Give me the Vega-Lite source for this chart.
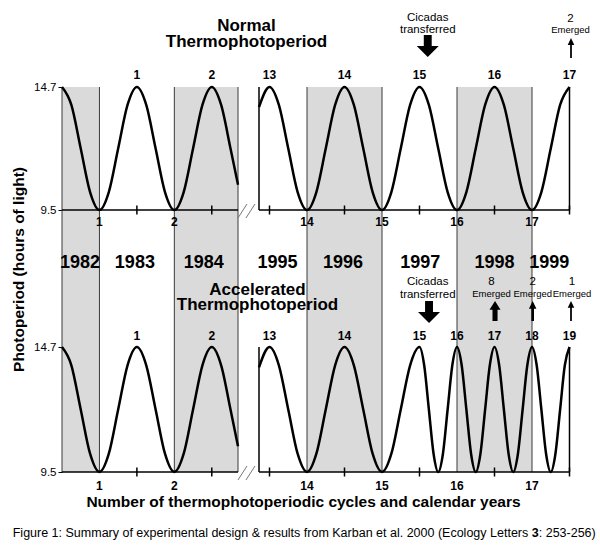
{
  "$schema": "https://vega.github.io/schema/vega-lite/v6.json",
  "width": 508,
  "height": 385,
  "autosize": {"type": "none"},
  "padding": {"left": 62, "top": 87, "right": 30, "bottom": 78},
  "background": "white",
  "config": {
    "view": {"stroke": null},
    "axisX": {"disable": true},
    "scale": {"continuousPadding": 0},
    "text": {"font": "Liberation Sans", "color": "black"}
  },
  "datasets": {
    "curves": [
      {"p":"B","s":"L","t":0.5,"v":14.7},{"p":"B","s":"L","t":0.625,"v":13.94},{"p":"B","s":"L","t":0.75,"v":12.1},{"p":"B","s":"L","t":0.875,"v":10.26},
      {"p":"B","s":"L","t":1,"v":9.5},{"p":"B","s":"L","t":1.125,"v":10.26},{"p":"B","s":"L","t":1.25,"v":12.1},{"p":"B","s":"L","t":1.375,"v":13.94},
      {"p":"B","s":"L","t":1.5,"v":14.7},{"p":"B","s":"L","t":1.625,"v":13.94},{"p":"B","s":"L","t":1.75,"v":12.1},{"p":"B","s":"L","t":1.875,"v":10.26},
      {"p":"B","s":"L","t":2,"v":9.5},{"p":"B","s":"L","t":2.125,"v":10.26},{"p":"B","s":"L","t":2.25,"v":12.1},{"p":"B","s":"L","t":2.375,"v":13.94},
      {"p":"B","s":"L","t":2.5,"v":14.7},{"p":"B","s":"L","t":2.625,"v":13.94},{"p":"B","s":"L","t":2.75,"v":12.1},{"p":"B","s":"L","t":2.85,"v":10.57},
      {"p":"B","s":"R","t":13.36,"v":13.85},{"p":"B","s":"R","t":13.5,"v":14.7},{"p":"B","s":"R","t":13.625,"v":13.94},{"p":"B","s":"R","t":13.75,"v":12.1},{"p":"B","s":"R","t":13.875,"v":10.26},
      {"p":"B","s":"R","t":14,"v":9.5},{"p":"B","s":"R","t":14.125,"v":10.26},{"p":"B","s":"R","t":14.25,"v":12.1},{"p":"B","s":"R","t":14.375,"v":13.94},
      {"p":"B","s":"R","t":14.5,"v":14.7},{"p":"B","s":"R","t":14.625,"v":13.94},{"p":"B","s":"R","t":14.75,"v":12.1},{"p":"B","s":"R","t":14.875,"v":10.26},
      {"p":"B","s":"R","t":15,"v":9.5},{"p":"B","s":"R","t":15.125,"v":10.26},{"p":"B","s":"R","t":15.25,"v":12.1},{"p":"B","s":"R","t":15.375,"v":13.94},
      {"p":"B","s":"R","t":15.5,"v":14.7},
      {"p":"N","s":"R","t":15.625,"v":13.94},{"p":"N","s":"R","t":15.75,"v":12.1},{"p":"N","s":"R","t":15.875,"v":10.26},
      {"p":"N","s":"R","t":16,"v":9.5},{"p":"N","s":"R","t":16.125,"v":10.26},{"p":"N","s":"R","t":16.25,"v":12.1},{"p":"N","s":"R","t":16.375,"v":13.94},
      {"p":"N","s":"R","t":16.5,"v":14.7},{"p":"N","s":"R","t":16.625,"v":13.94},{"p":"N","s":"R","t":16.75,"v":12.1},{"p":"N","s":"R","t":16.875,"v":10.26},
      {"p":"N","s":"R","t":17,"v":9.5},{"p":"N","s":"R","t":17.125,"v":10.26},{"p":"N","s":"R","t":17.25,"v":12.1},{"p":"N","s":"R","t":17.375,"v":13.94},
      {"p":"N","s":"R","t":17.5,"v":14.7},
      {"p":"A","s":"R","t":15.5625,"v":13.94},{"p":"A","s":"R","t":15.625,"v":12.1},{"p":"A","s":"R","t":15.6875,"v":10.26},{"p":"A","s":"R","t":15.75,"v":9.5},
      {"p":"A","s":"R","t":15.8125,"v":10.26},{"p":"A","s":"R","t":15.875,"v":12.1},{"p":"A","s":"R","t":15.9375,"v":13.94},{"p":"A","s":"R","t":16,"v":14.7},
      {"p":"A","s":"R","t":16.0625,"v":13.94},{"p":"A","s":"R","t":16.125,"v":12.1},{"p":"A","s":"R","t":16.1875,"v":10.26},{"p":"A","s":"R","t":16.25,"v":9.5},
      {"p":"A","s":"R","t":16.3125,"v":10.26},{"p":"A","s":"R","t":16.375,"v":12.1},{"p":"A","s":"R","t":16.4375,"v":13.94},{"p":"A","s":"R","t":16.5,"v":14.7},
      {"p":"A","s":"R","t":16.5625,"v":13.94},{"p":"A","s":"R","t":16.625,"v":12.1},{"p":"A","s":"R","t":16.6875,"v":10.26},{"p":"A","s":"R","t":16.75,"v":9.5},
      {"p":"A","s":"R","t":16.8125,"v":10.26},{"p":"A","s":"R","t":16.875,"v":12.1},{"p":"A","s":"R","t":16.9375,"v":13.94},{"p":"A","s":"R","t":17,"v":14.7},
      {"p":"A","s":"R","t":17.0625,"v":13.94},{"p":"A","s":"R","t":17.125,"v":12.1},{"p":"A","s":"R","t":17.1875,"v":10.26},{"p":"A","s":"R","t":17.25,"v":9.5},
      {"p":"A","s":"R","t":17.3125,"v":10.26},{"p":"A","s":"R","t":17.375,"v":12.1},{"p":"A","s":"R","t":17.4375,"v":13.94},{"p":"A","s":"R","t":17.5,"v":14.7}
    ],
    "axislines": [{"t":0.5,"t2":2.88,"v":9.5},{"t":13.36,"t2":17.5,"v":9.5}],
    "paneledges": [{"t":13.36,"v":9.5,"v2":14.7},{"t":17.5,"v":9.5,"v2":14.7}],
    "ticks": [{"t":1.5,"v":9.5},{"t":2.5,"v":9.5},{"t":13.5,"v":9.5},{"t":14.5,"v":9.5},{"t":15.5,"v":9.5},{"t":16.5,"v":9.5},{"t":17.5,"v":9.5}]
  },
  "layer": [
    {
      "data": {"values": [{"a":0.5,"b":1},{"a":2,"b":2.85},{"a":14,"b":15},{"a":16,"b":17}]},
      "mark": {"type": "rect", "fill": "#dadada"},
      "encoding": {
        "x": {"field": "a", "type": "quantitative", "scale": {"domain": [0.5, 2.85, 13.36, 17.5], "range": [0, 176, 197, 507.5], "padding": 0, "nice": false, "zero": false}},
        "x2": {"field": "b"}
      }
    },
    {
      "data": {"values": [{"a":0.5},{"a":1},{"a":2},{"a":2.85},{"a":14},{"a":15},{"a":16},{"a":17}]},
      "mark": {"type": "rule", "color": "#3a3a3a", "strokeWidth": 1},
      "encoding": {"x": {"field": "a", "type": "quantitative"}}
    },
    {
      "layer": [
        {
          "data": {"name": "curves"},
          "transform": [{"filter": "datum.p != 'A'"}],
          "mark": {"type": "line", "color": "black", "strokeWidth": 2.5, "interpolate": "monotone"},
          "encoding": {
            "x": {"field": "t", "type": "quantitative"},
            "y": {"field": "v", "type": "quantitative",
              "scale": {"domain": [-1.576, 14.7], "nice": false, "zero": false, "padding": 0},
              "axis": {"values": [9.5, 14.7], "orient": "left", "domain": false, "grid": false, "ticks": true, "tickSize": 4, "tickColor": "black", "labelFontSize": 11.5, "labelColor": "black", "labelFont": "Liberation Sans", "labelPadding": 2, "title": null, "format": ".1f"}},
            "detail": {"field": "s"}
          }
        },
        {
          "data": {"name": "axislines"},
          "mark": {"type": "rule", "color": "black", "strokeWidth": 1.5},
          "encoding": {"x": {"field": "t", "type": "quantitative"}, "x2": {"field": "t2"}, "y": {"field": "v", "type": "quantitative"}}
        },
        {
          "data": {"name": "paneledges"},
          "mark": {"type": "rule", "color": "black", "strokeWidth": 1.5},
          "encoding": {"x": {"field": "t", "type": "quantitative"}, "y": {"field": "v", "type": "quantitative"}, "y2": {"field": "v2"}}
        },
        {
          "data": {"name": "ticks"},
          "mark": {"type": "tick", "orient": "vertical", "color": "black", "size": 9, "thickness": 1.5, "opacity": 1},
          "encoding": {"x": {"field": "t", "type": "quantitative"}, "y": {"field": "v", "type": "quantitative"}}
        },
        {
          "data": {"values": [{"t":2.85,"t2":7.35,"v":9.162,"v2":9.754},{"t":6.85,"t2":11.36,"v":9.162,"v2":9.754}]},
          "mark": {"type": "rule", "color": "#777777", "strokeWidth": 1},
          "encoding": {"x": {"field": "t", "type": "quantitative"}, "x2": {"field": "t2"}, "y": {"field": "v", "type": "quantitative"}, "y2": {"field": "v2"}}
        },
        {
          "data": {"values": [
            {"t":1.5,"v":15.02,"label":"1"},{"t":2.5,"v":15.02,"label":"2"},{"t":13.5,"v":15.02,"label":"13"},{"t":14.5,"v":15.02,"label":"14"},
            {"t":15.5,"v":15.02,"label":"15"},{"t":16.5,"v":15.02,"label":"16"},{"t":17.5,"v":15.02,"label":"17"},
            {"t":1,"v":8.824,"label":"1"},{"t":2,"v":8.824,"label":"2"},{"t":14,"v":8.824,"label":"14"},{"t":15,"v":8.824,"label":"15"},
            {"t":16,"v":8.824,"label":"16"},{"t":17,"v":8.824,"label":"17"}
          ]},
          "mark": {"type": "text", "fontSize": 12, "fontWeight": "bold", "baseline": "alphabetic", "align": "center"},
          "encoding": {"x": {"field": "t", "type": "quantitative"}, "y": {"field": "v", "type": "quantitative"}, "text": {"field": "label"}}
        },
        {
          "data": {"values": [{"t":7.1,"v":17.06,"label":"Normal"},{"t":7.1,"v":16.41,"label":"Thermophotoperiod"}]},
          "mark": {"type": "text", "fontSize": 17, "fontWeight": "bold", "baseline": "alphabetic", "align": "center"},
          "encoding": {"x": {"field": "t", "type": "quantitative"}, "y": {"field": "v", "type": "quantitative"}, "text": {"field": "label"}}
        },
        {
          "data": {"values": [{"t":15.61,"v":17.49,"label":"Cicadas"},{"t":15.61,"v":16.98,"label":"transferred"},{"t":17.513,"v":17.43,"label":"2"}]},
          "mark": {"type": "text", "fontSize": 11.5, "baseline": "alphabetic", "align": "center"},
          "encoding": {"x": {"field": "t", "type": "quantitative"}, "y": {"field": "v", "type": "quantitative"}, "text": {"field": "label"}}
        },
        {
          "data": {"values": [{"t":17.513,"v":16.983,"label":"Emerged"}]},
          "mark": {"type": "text", "fontSize": 9.5, "baseline": "alphabetic", "align": "center"},
          "encoding": {"x": {"field": "t", "type": "quantitative"}, "y": {"field": "v", "type": "quantitative"}, "text": {"field": "label"}}
        },
        {
          "data": {"values": [{"t":15.61,"v":16.433,"k":"down"},{"t":17.52,"v":16.35,"k":"thin"}]},
          "mark": {"type": "point", "filled": true, "color": "black", "opacity": 1, "size": 484, "strokeWidth": 0},
          "encoding": {
            "x": {"field": "t", "type": "quantitative"}, "y": {"field": "v", "type": "quantitative"},
            "shape": {"field": "k", "type": "nominal", "legend": null,
              "scale": {"domain": ["down", "thick", "med", "thin"],
                "range": ["M-0.36,-1L0.36,-1L0.36,0L1,0L0,1L-1,0L-0.36,0Z",
                          "M0,-0.91L0.5,-0.1L0.23,-0.1L0.23,0.91L-0.23,0.91L-0.23,-0.1L-0.5,-0.1Z",
                          "M0,-0.91L0.34,-0.2L0.12,-0.2L0.12,0.91L-0.12,0.91L-0.12,-0.2L-0.34,-0.2Z",
                          "M0,-0.91L0.3,-0.28L0.08,-0.28L0.08,0.91L-0.08,0.91L-0.08,-0.28L-0.3,-0.28Z"]}}
          }
        }
      ]
    },
    {
      "layer": [
        {
          "data": {"name": "curves"},
          "transform": [{"filter": "datum.p != 'N'"}],
          "mark": {"type": "line", "color": "black", "strokeWidth": 2.5, "interpolate": "monotone"},
          "encoding": {
            "x": {"field": "t", "type": "quantitative"},
            "y": {"field": "v", "type": "quantitative",
              "scale": {"domain": [9.5, 25.516], "nice": false, "zero": false, "padding": 0},
              "axis": {"values": [9.5, 14.7], "orient": "left", "domain": false, "grid": false, "ticks": true, "tickSize": 4, "tickColor": "black", "labelFontSize": 11.5, "labelColor": "black", "labelFont": "Liberation Sans", "labelPadding": 2, "title": null, "format": ".1f"}},
            "detail": {"field": "s"}
          }
        },
        {
          "data": {"name": "axislines"},
          "mark": {"type": "rule", "color": "black", "strokeWidth": 1.5},
          "encoding": {"x": {"field": "t", "type": "quantitative"}, "x2": {"field": "t2"}, "y": {"field": "v", "type": "quantitative"}}
        },
        {
          "data": {"name": "paneledges"},
          "mark": {"type": "rule", "color": "black", "strokeWidth": 1.5},
          "encoding": {"x": {"field": "t", "type": "quantitative"}, "y": {"field": "v", "type": "quantitative"}, "y2": {"field": "v2"}}
        },
        {
          "data": {"name": "ticks"},
          "mark": {"type": "tick", "orient": "vertical", "color": "black", "size": 9, "thickness": 1.5, "opacity": 1},
          "encoding": {"x": {"field": "t", "type": "quantitative"}, "y": {"field": "v", "type": "quantitative"}}
        },
        {
          "data": {"values": [{"t":2.85,"t2":7.35,"v":9.167,"v2":9.75},{"t":6.85,"t2":11.36,"v":9.167,"v2":9.75}]},
          "mark": {"type": "rule", "color": "#777777", "strokeWidth": 1},
          "encoding": {"x": {"field": "t", "type": "quantitative"}, "x2": {"field": "t2"}, "y": {"field": "v", "type": "quantitative"}, "y2": {"field": "v2"}}
        },
        {
          "data": {"values": [
            {"t":1.5,"v":14.99,"label":"1"},{"t":2.5,"v":14.99,"label":"2"},{"t":13.5,"v":14.99,"label":"13"},{"t":14.5,"v":14.99,"label":"14"},
            {"t":15.5,"v":14.99,"label":"15"},{"t":16,"v":14.99,"label":"16"},{"t":16.5,"v":14.99,"label":"17"},{"t":17,"v":14.99,"label":"18"},{"t":17.5,"v":14.99,"label":"19"},
            {"t":1,"v":8.751,"label":"1"},{"t":2,"v":8.751,"label":"2"},{"t":14,"v":8.751,"label":"14"},{"t":15,"v":8.751,"label":"15"},
            {"t":16,"v":8.751,"label":"16"},{"t":17,"v":8.751,"label":"17"}
          ]},
          "mark": {"type": "text", "fontSize": 12, "fontWeight": "bold", "baseline": "alphabetic", "align": "center"},
          "encoding": {"x": {"field": "t", "type": "quantitative"}, "y": {"field": "v", "type": "quantitative"}, "text": {"field": "label"}}
        },
        {
          "data": {"values": [
            {"t":0.74,"v":17.986,"label":"1982"},{"t":1.473,"v":17.986,"label":"1983"},{"t":2.393,"v":17.986,"label":"1984"},{"t":13.607,"v":17.986,"label":"1995"},
            {"t":14.48,"v":17.986,"label":"1996"},{"t":15.51,"v":17.986,"label":"1997"},{"t":16.5,"v":17.986,"label":"1998"},{"t":17.23,"v":17.986,"label":"1999"}
          ]},
          "mark": {"type": "text", "fontSize": 18, "fontWeight": "bold", "baseline": "alphabetic", "align": "center"},
          "encoding": {"x": {"field": "t", "type": "quantitative"}, "y": {"field": "v", "type": "quantitative"}, "text": {"field": "label"}}
        },
        {
          "data": {"values": [{"t":12.6,"v":16.85,"label":"Accelerated"},{"t":12.6,"v":16.22,"label":"Thermophotoperiod"}]},
          "mark": {"type": "text", "fontSize": 17, "fontWeight": "bold", "baseline": "alphabetic", "align": "center"},
          "encoding": {"x": {"field": "t", "type": "quantitative"}, "y": {"field": "v", "type": "quantitative"}, "text": {"field": "label"}}
        },
        {
          "data": {"values": [
            {"t":15.61,"v":17.279,"label":"Cicadas"},{"t":15.61,"v":16.759,"label":"transferred"},
            {"t":16.46,"v":17.28,"label":"8"},{"t":17.01,"v":17.28,"label":"2"},{"t":17.533,"v":17.28,"label":"1"}
          ]},
          "mark": {"type": "text", "fontSize": 11.5, "baseline": "alphabetic", "align": "center"},
          "encoding": {"x": {"field": "t", "type": "quantitative"}, "y": {"field": "v", "type": "quantitative"}, "text": {"field": "label"}}
        },
        {
          "data": {"values": [{"t":16.46,"v":16.8,"label":"Emerged"},{"t":17.01,"v":16.8,"label":"Emerged"},{"t":17.533,"v":16.8,"label":"Emerged"}]},
          "mark": {"type": "text", "fontSize": 9.5, "baseline": "alphabetic", "align": "center"},
          "encoding": {"x": {"field": "t", "type": "quantitative"}, "y": {"field": "v", "type": "quantitative"}, "text": {"field": "label"}}
        },
        {
          "data": {"values": [{"t":15.627,"v":16.16,"k":"down"},{"t":16.507,"v":16.2,"k":"thick"},{"t":17.009,"v":16.2,"k":"med"},{"t":17.52,"v":16.2,"k":"thin"}]},
          "mark": {"type": "point", "filled": true, "color": "black", "opacity": 1, "size": 484, "strokeWidth": 0},
          "encoding": {
            "x": {"field": "t", "type": "quantitative"}, "y": {"field": "v", "type": "quantitative"},
            "shape": {"field": "k", "type": "nominal", "legend": null,
              "scale": {"domain": ["down", "thick", "med", "thin"],
                "range": ["M-0.36,-1L0.36,-1L0.36,0L1,0L0,1L-1,0L-0.36,0Z",
                          "M0,-0.91L0.5,-0.1L0.23,-0.1L0.23,0.91L-0.23,0.91L-0.23,-0.1L-0.5,-0.1Z",
                          "M0,-0.91L0.34,-0.2L0.12,-0.2L0.12,0.91L-0.12,0.91L-0.12,-0.2L-0.34,-0.2Z",
                          "M0,-0.91L0.3,-0.28L0.08,-0.28L0.08,0.91L-0.08,0.91L-0.08,-0.28L-0.3,-0.28Z"]}}
          }
        },
        {
          "data": {"values": [{"t":13.953,"v":8.044,"label":"Number of thermophotoperiodic cycles and calendar years"}]},
          "mark": {"type": "text", "fontSize": 15.5, "fontWeight": "bold", "baseline": "alphabetic", "align": "center"},
          "encoding": {"x": {"field": "t", "type": "quantitative"}, "y": {"field": "v", "type": "quantitative"}, "text": {"field": "label"}}
        },
        {
          "data": {"values": [{"t":-0.073,"v":17.924,"label":"Photoperiod (hours of light)"}]},
          "mark": {"type": "text", "fontSize": 15.5, "fontWeight": "bold", "baseline": "middle", "align": "center", "angle": 270},
          "encoding": {"x": {"field": "t", "type": "quantitative"}, "y": {"field": "v", "type": "quantitative"}, "text": {"field": "label"}}
        },
        {
          "data": {"values": [{"t":16.95,"v":6.796,"label":"Figure 1: Summary of experimental design & results from Karban et al. 2000 (Ecology Letters"}]},
          "mark": {"type": "text", "fontSize": 12.5, "baseline": "alphabetic", "align": "right"},
          "encoding": {"x": {"field": "t", "type": "quantitative"}, "y": {"field": "v", "type": "quantitative"}, "text": {"field": "label"}}
        },
        {
          "data": {"values": [{"t":16.95,"v":6.796,"label":"3"}]},
          "mark": {"type": "text", "fontSize": 12.5, "fontWeight": "bold", "baseline": "alphabetic", "align": "left", "dx": 3.5},
          "encoding": {"x": {"field": "t", "type": "quantitative"}, "y": {"field": "v", "type": "quantitative"}, "text": {"field": "label"}}
        },
        {
          "data": {"values": [{"t":16.95,"v":6.796,"label":": 253-256)"}]},
          "mark": {"type": "text", "fontSize": 12.5, "baseline": "alphabetic", "align": "left", "dx": 10.5},
          "encoding": {"x": {"field": "t", "type": "quantitative"}, "y": {"field": "v", "type": "quantitative"}, "text": {"field": "label"}}
        }
      ]
    }
  ],
  "resolve": {"scale": {"y": "independent"}}
}
